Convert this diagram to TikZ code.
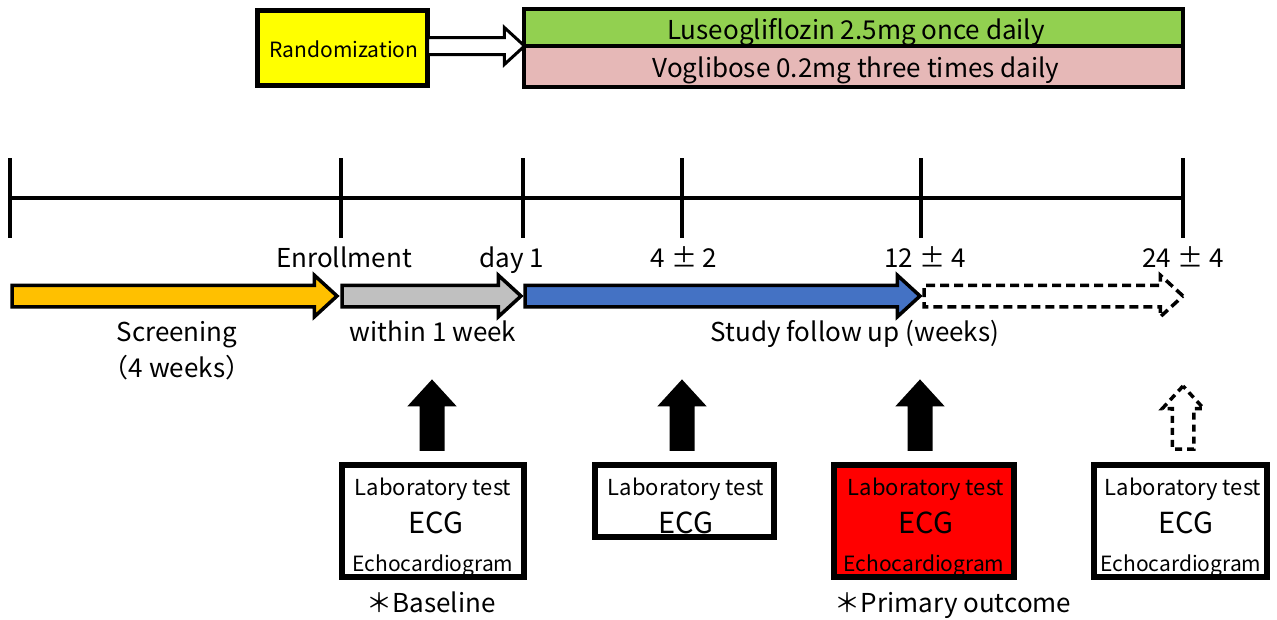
\documentclass[tikz,border=0pt]{standalone}
\usepackage{fontspec}
\setmainfont{Noto Sans CJK JP}
\usetikzlibrary{shapes.arrows}
\definecolor{randyellow}{HTML}{FFFF00}
\definecolor{drggreen}{HTML}{92D050}
\definecolor{drgpink}{HTML}{E6B8B7}
\definecolor{scrorange}{HTML}{FFC000}
\definecolor{wkgray}{HTML}{C0C0C0}
\definecolor{fupblue}{HTML}{4472C4}
\definecolor{outred}{HTML}{FF0000}
\begin{document}
\begin{tikzpicture}[x=1pt, y=-1pt,
    box/.style={draw, line width=5pt, inner sep=0pt, outer sep=0pt},
    blockarrow/.style={single arrow, draw, line width=3.5pt, inner xsep=0pt, inner ysep=9pt,
        minimum width=0pt, single arrow head extend=10pt, single arrow tip angle=85,
        single arrow head indent=0pt, outer sep=0pt, anchor=tail},
    tl/.style={line width=3.5pt},
    lbl/.style={inner sep=0pt, anchor=base, font=\fontsize{26}{30}\selectfont},
    smlbl/.style={inner sep=0pt, anchor=base, font=\fontsize{22}{26}\selectfont},
    echolbl/.style={inner sep=0pt, anchor=base, font=\fontsize{21}{25}\selectfont},
    ecglbl/.style={inner sep=0pt, anchor=base, font=\fontsize{29}{33}\selectfont}]
    \useasboundingbox (0,0) rectangle (1277,619);

    % randomization and the two arms
    \node[box, fill=randyellow, minimum width=170pt, minimum height=75pt] (rand) at (342.5,48) {};
    \node[echolbl] (randtxt) at (344,57) {Randomization};
    \node[box, line width=4pt, fill=drggreen, minimum width=659pt, minimum height=37pt] (luseo) at (853.5,27) {};
    \node[box, line width=4pt, fill=drgpink, minimum width=659pt, minimum height=41pt] (vogli) at (853.5,66) {};
    \node[lbl] (luseotxt) at (856,39) {Luseogliflozin 2.5mg once daily};
    \node[lbl] (voglitxt) at (856,77) {Voglibose 0.2mg three times daily};
    \node[blockarrow, fill=white, line width=3pt, inner ysep=7pt, minimum height=97pt] (randarr) at (rand.east |- 0,46) {};

    % time line
    \draw[tl] (10,198) -- (1183,198);
    \foreach \x in {10,341,523,682,921,1183}
        \draw[tl] (\x,158) -- (\x,238);
    \node[lbl] (enroll) at (344,267) {Enrollment};
    \node[lbl] (day1) at (512,267) {day 1};
    \node[lbl] (wk4) at (684,267) {4 ± 2};
    \node[lbl] (wk12) at (925,267) {12 ± 4};
    \node[lbl] (wk24) at (1183,267) {24 ± 4};

    % study phases
    \node[blockarrow, fill=scrorange, minimum height=325pt] (scr) at (12,296) {};
    \node[blockarrow, fill=wkgray, minimum height=179pt] (wk) at (342,296) {};
    \node[blockarrow, fill=fupblue, minimum height=395pt] (fup) at (525,296) {};
    \node[blockarrow, fill=white, dash pattern=on 9pt off 5pt, minimum height=259pt] (ext) at (924,296) {};
    \node[lbl] (scrtxt) at (177,341) {Screening};
    \node[lbl] (scrwk) at (177,377) {（4 weeks）};
    \node[lbl] (wktxt) at (433,341) {within 1 week};
    \node[lbl] (fuptxt) at (855,341) {Study follow up (weeks)};

    % examinations
    \node[blockarrow, fill=black, rotate=90, minimum height=67pt] (up1) at (432,449) {};
    \node[blockarrow, fill=black, rotate=90, minimum height=67pt] (up2) at (682,449) {};
    \node[blockarrow, fill=black, rotate=90, minimum height=67pt] (up3) at (920,449) {};
    \node[blockarrow, fill=white, dash pattern=on 7pt off 5pt, rotate=90, minimum height=63pt] (up4) at (1183,449) {};

    \node[box, line width=6pt, minimum width=182pt, minimum height=112pt] (base) at (433,521) {};
    \node[smlbl] (baselab) at (433,495) {Laboratory test};
    \node[ecglbl] (baseecg) at (436,533) {ECG};
    \node[echolbl] (baseecho) at (433,571) {Echocardiogram};

    \node[box, line width=6pt, minimum width=179pt, minimum height=72pt] (mid) at (684.5,501) {};
    \node[smlbl] (midlab) at (686,495) {Laboratory test};
    \node[ecglbl] (midecg) at (686,533) {ECG};

    \node[box, line width=6pt, fill=outred, minimum width=180pt, minimum height=112pt] (prim) at (924,521) {};
    \node[smlbl] (primlab) at (926,495) {Laboratory test};
    \node[ecglbl] (primecg) at (926,533) {ECG};
    \node[echolbl] (primecho) at (924,571) {Echocardiogram};

    \node[box, line width=6pt, minimum width=173pt, minimum height=112pt] (last) at (1180.5,521) {};
    \node[smlbl] (lastlab) at (1183,495) {Laboratory test};
    \node[ecglbl] (lastecg) at (1186,533) {ECG};
    \node[echolbl] (lastecho) at (1181,571) {Echocardiogram};

    \node[lbl] (basenote) at (431,612) {＊Baseline};
    \node[lbl] (primnote) at (953,612) {＊Primary outcome};
\end{tikzpicture}
\end{document}
